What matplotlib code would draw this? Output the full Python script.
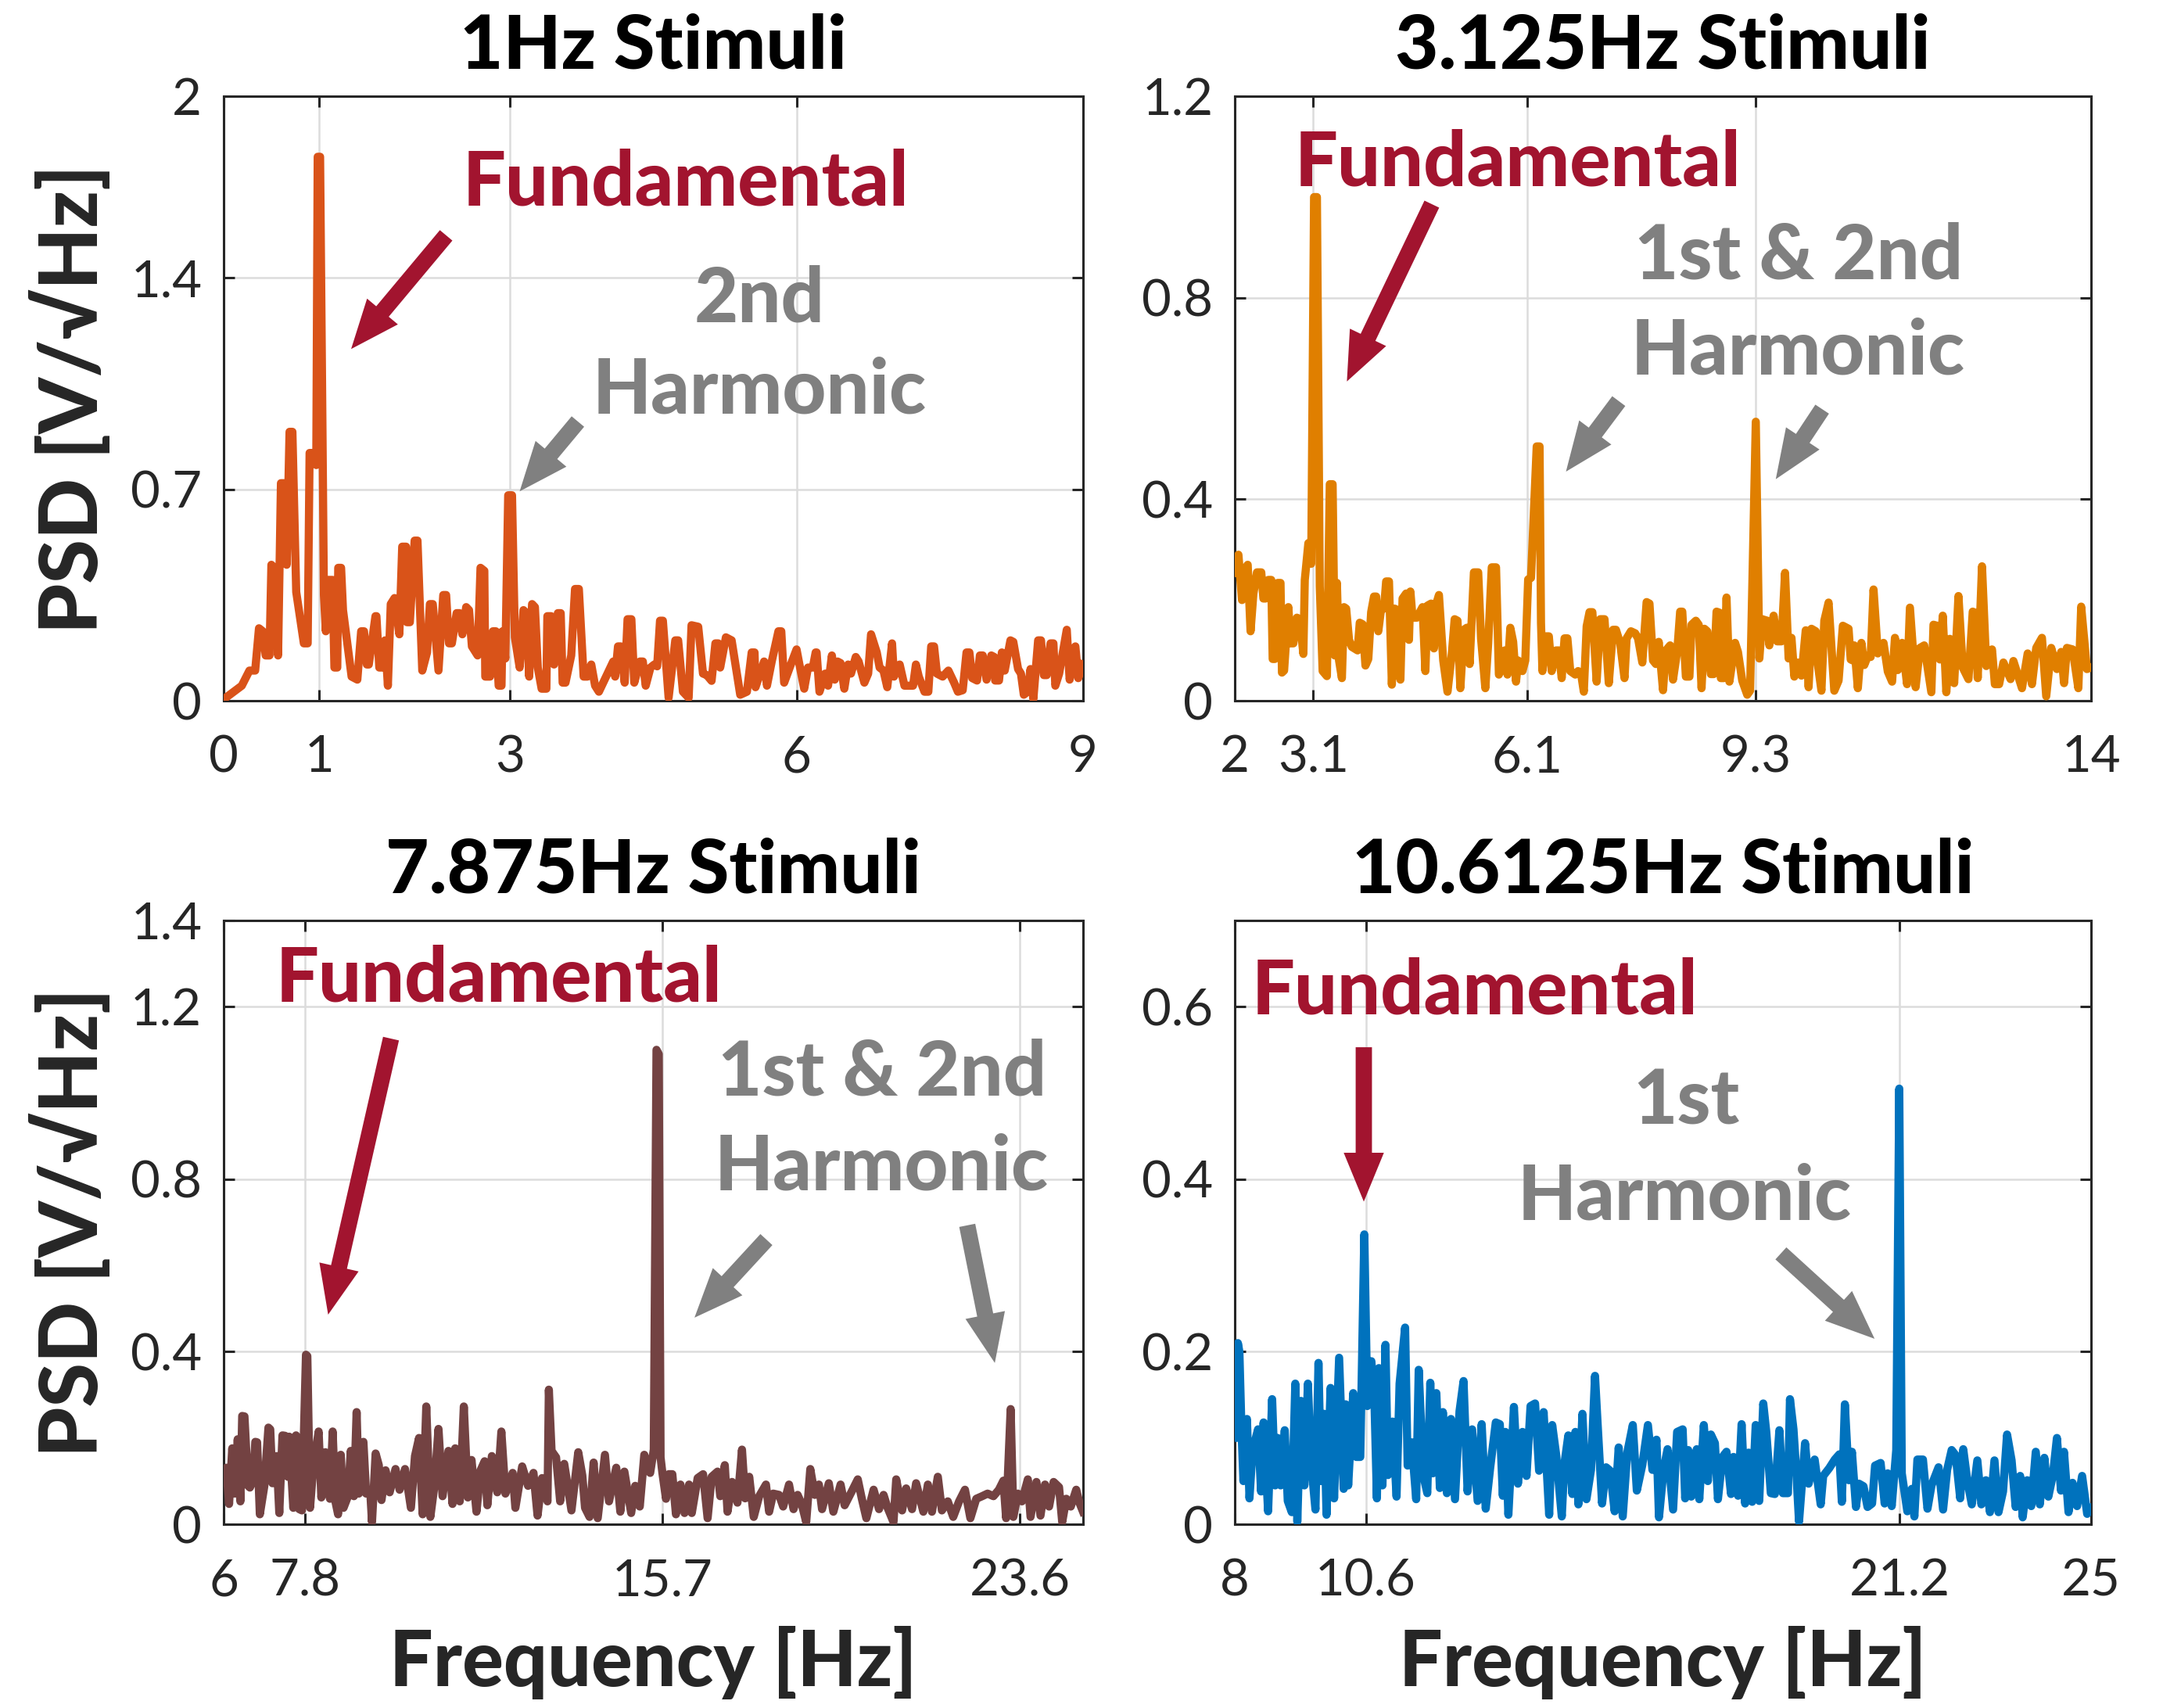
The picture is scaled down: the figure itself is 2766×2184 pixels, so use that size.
import numpy as np
import matplotlib
matplotlib.use('Agg')
import matplotlib.pyplot as plt
from matplotlib.patches import FancyArrowPatch

plt.rcParams['font.family'] = ['Lato', 'DejaVu Sans']

# ---- data ----
f1 = [0.00, 0.19, 0.27, 0.33, 0.37, 0.41, 0.44, 0.48, 0.50, 0.53, 0.57, 0.60, 0.63, 0.66, 0.69, 0.72, 0.76, 0.84, 0.88, 0.90,
      0.95, 0.97, 0.985, 1.01, 1.05, 1.07, 1.10, 1.14, 1.16, 1.19, 1.20, 1.23, 1.25, 1.34, 1.40, 1.44, 1.47, 1.50, 1.52, 1.59,
      1.60, 1.63, 1.67, 1.69, 1.72, 1.75, 1.79, 1.84, 1.87, 1.91, 1.92, 1.95, 2.00, 2.03, 2.08, 2.13, 2.16, 2.19, 2.25, 2.30,
      2.33, 2.36, 2.39, 2.44, 2.47, 2.50, 2.54, 2.57, 2.60, 2.66, 2.69, 2.73, 2.74, 2.79, 2.82, 2.85, 2.88, 2.91, 2.92, 2.95,
      2.98, 3.02, 3.05, 3.10, 3.14, 3.17, 3.20, 3.23, 3.26, 3.29, 3.33, 3.38, 3.39, 3.43, 3.46, 3.50, 3.53, 3.55, 3.58, 3.64,
      3.68, 3.72, 3.77, 3.81, 3.85, 3.89, 3.93, 3.96, 4.08, 4.10, 4.13, 4.16, 4.20, 4.23, 4.27, 4.30, 4.36, 4.39, 4.42, 4.47,
      4.51, 4.54, 4.57, 4.60, 4.66, 4.73, 4.76, 4.81, 4.87, 4.90, 4.97, 5.02, 5.06, 5.11, 5.15, 5.18, 5.20, 5.26, 5.32, 5.41,
      5.48, 5.53, 5.56, 5.57, 5.66, 5.69, 5.74, 5.81, 5.84, 5.87, 5.94, 6.00, 6.03, 6.08, 6.12, 6.17, 6.20, 6.21, 6.24, 6.30,
      6.33, 6.37, 6.40, 6.43, 6.46, 6.50, 6.54, 6.57, 6.62, 6.65, 6.71, 6.75, 6.78, 6.84, 6.87, 6.91, 6.95, 7.00, 7.02, 7.08,
      7.13, 7.22, 7.25, 7.28, 7.34, 7.38, 7.41, 7.44, 7.47, 7.53, 7.59, 7.65, 7.69, 7.74, 7.78, 7.81, 7.84, 7.89, 7.92, 7.95,
      7.99, 8.04, 8.07, 8.08, 8.12, 8.15, 8.18, 8.24, 8.27, 8.32, 8.35, 8.38, 8.42, 8.45, 8.48, 8.53, 8.56, 8.59, 8.62, 8.66,
      8.69, 8.71, 8.75, 8.83, 8.86, 8.92, 8.95, 9.00]
p1 = [0.005, 0.05, 0.10, 0.10, 0.24, 0.23, 0.15, 0.15, 0.45, 0.44, 0.15, 0.72, 0.72, 0.45, 0.89, 0.89, 0.36, 0.19, 0.19, 0.82,
      0.82, 0.78, 1.80, 1.80, 0.35, 0.23, 0.40, 0.40, 0.11, 0.11, 0.44, 0.44, 0.30, 0.08, 0.07, 0.23, 0.23, 0.12, 0.12, 0.28,
      0.28, 0.11, 0.11, 0.20, 0.05, 0.32, 0.34, 0.22, 0.51, 0.51, 0.26, 0.26, 0.53, 0.53, 0.10, 0.16, 0.32, 0.32, 0.10, 0.35,
      0.35, 0.19, 0.19, 0.29, 0.29, 0.22, 0.31, 0.30, 0.18, 0.15, 0.44, 0.43, 0.08, 0.08, 0.23, 0.23, 0.05, 0.05, 0.23, 0.14,
      0.68, 0.68, 0.21, 0.11, 0.30, 0.29, 0.08, 0.32, 0.31, 0.11, 0.04, 0.04, 0.28, 0.28, 0.12, 0.29, 0.29, 0.06, 0.06, 0.15,
      0.37, 0.37, 0.08, 0.08, 0.12, 0.05, 0.03, 0.05, 0.13, 0.08, 0.18, 0.18, 0.06, 0.27, 0.27, 0.06, 0.13, 0.13, 0.05, 0.11,
      0.12, 0.114, 0.265, 0.265, 0.01, 0.20, 0.20, 0.03, 0.01, 0.25, 0.245, 0.09, 0.085, 0.066, 0.19, 0.19, 0.11, 0.21, 0.20, 0.02,
      0.03, 0.16, 0.16, 0.045, 0.13, 0.05, 0.13, 0.23, 0.23, 0.06, 0.12, 0.17, 0.12, 0.04, 0.11, 0.11, 0.16, 0.16, 0.03, 0.09,
      0.05, 0.15, 0.07, 0.13, 0.125, 0.04, 0.12, 0.09, 0.145, 0.13, 0.06, 0.09, 0.22, 0.16, 0.11, 0.10, 0.045, 0.19, 0.08, 0.12,
      0.05, 0.05, 0.12, 0.08, 0.03, 0.03, 0.18, 0.18, 0.09, 0.08, 0.10, 0.06, 0.03, 0.035, 0.16, 0.16, 0.075, 0.067, 0.15, 0.15,
      0.07, 0.15, 0.145, 0.067, 0.067, 0.16, 0.10, 0.20, 0.195, 0.105, 0.09, 0.02, 0.03, 0.105, 0.006, 0.20, 0.20, 0.085, 0.085, 0.19,
      0.19, 0.05, 0.09, 0.235, 0.07, 0.18, 0.075, 0.12]

f2 = [2.00, 2.05, 2.10, 2.13, 2.18, 2.22, 2.26, 2.31, 2.37, 2.40, 2.43, 2.47, 2.51, 2.53, 2.56, 2.60, 2.64, 2.66, 2.69, 2.75,
      2.78, 2.82, 2.87, 2.91, 2.96, 2.98, 3.03, 3.07, 3.11, 3.15, 3.19, 3.23, 3.29, 3.33, 3.37, 3.40, 3.43, 3.46, 3.50, 3.53,
      3.56, 3.60, 3.64, 3.72, 3.75, 3.79, 3.83, 3.87, 3.91, 3.95, 3.98, 4.01, 4.05, 4.09, 4.12, 4.16, 4.20, 4.24, 4.28, 4.32,
      4.35, 4.40, 4.44, 4.46, 4.49, 4.55, 4.63, 4.67, 4.70, 4.75, 4.79, 4.83, 4.86, 4.92, 4.98, 5.04, 5.08, 5.12, 5.16, 5.21,
      5.25, 5.29, 5.35, 5.41, 5.45, 5.51, 5.55, 5.60, 5.66, 5.70, 5.74, 5.78, 5.82, 5.86, 5.90, 5.94, 5.97, 6.03, 6.07, 6.11,
      6.15, 6.23, 6.27, 6.29, 6.31, 6.36, 6.40, 6.44, 6.50, 6.54, 6.58, 6.62, 6.66, 6.70, 6.77, 6.81, 6.85, 6.89, 6.93, 6.97,
      7.01, 7.07, 7.12, 7.18, 7.24, 7.30, 7.34, 7.40, 7.46, 7.49, 7.55, 7.61, 7.65, 7.71, 7.77, 7.81, 7.86, 7.90, 7.94, 8.00,
      8.04, 8.10, 8.14, 8.20, 8.24, 8.27, 8.32, 8.37, 8.40, 8.46, 8.50, 8.54, 8.58, 8.62, 8.67, 8.71, 8.75, 8.79, 8.81, 8.85,
      8.89, 8.93, 9.01, 9.05, 9.11, 9.18, 9.22, 9.30, 9.35, 9.39, 9.46, 9.49, 9.55, 9.60, 9.66, 9.71, 9.76, 9.80, 9.84, 9.88,
      9.94, 10.00, 10.04, 10.08, 10.14, 10.16, 10.22, 10.26, 10.32, 10.40, 10.46, 10.52, 10.60, 10.63, 10.66, 10.68, 10.73, 10.78, 10.82, 10.87,
      10.91, 10.95, 11.01, 11.09, 11.15, 11.21, 11.25, 11.29, 11.35, 11.42, 11.46, 11.54, 11.60, 11.66, 11.76, 11.79, 11.84, 11.88, 11.92, 11.97,
      12.02, 12.08, 12.14, 12.20, 12.28, 12.34, 12.37, 12.41, 12.47, 12.53, 12.61, 12.65, 12.71, 12.77, 12.87, 12.91, 13.03, 13.11, 13.17, 13.23,
      13.31, 13.37, 13.44, 13.52, 13.58, 13.62, 13.66, 13.74, 13.82, 13.86, 13.94, 14.00]
p2 = [0.254, 0.29, 0.20, 0.26, 0.27, 0.138, 0.213, 0.255, 0.255, 0.203, 0.203, 0.24, 0.24, 0.083, 0.083, 0.234, 0.234, 0.056, 0.06, 0.186,
      0.114, 0.114, 0.165, 0.162, 0.093, 0.24, 0.313, 0.272, 1.00, 1.00, 0.227, 0.059, 0.049, 0.43, 0.43, 0.09, 0.234, 0.08, 0.045, 0.186,
      0.183, 0.121, 0.107, 0.10, 0.155, 0.152, 0.07, 0.083, 0.176, 0.207, 0.207, 0.138, 0.183, 0.183, 0.237, 0.237, 0.032, 0.183, 0.18, 0.042,
      0.203, 0.213, 0.121, 0.217, 0.165, 0.165, 0.186, 0.059, 0.189, 0.193, 0.104, 0.196, 0.21, 0.08, 0.018, 0.093, 0.162, 0.159, 0.025, 0.141,
      0.145, 0.073, 0.255, 0.255, 0.124, 0.025, 0.114, 0.265, 0.265, 0.052, 0.069, 0.10, 0.052, 0.145, 0.117, 0.038, 0.08, 0.059, 0.08, 0.241,
      0.244, 0.505, 0.505, 0.155, 0.059, 0.128, 0.128, 0.059, 0.10, 0.10, 0.045, 0.124, 0.124, 0.059, 0.052, 0.059, 0.055, 0.018, 0.148, 0.176,
      0.176, 0.038, 0.162, 0.162, 0.035, 0.141, 0.141, 0.114, 0.045, 0.124, 0.138, 0.134, 0.124, 0.076, 0.196, 0.193, 0.08, 0.073, 0.117, 0.021,
      0.10, 0.11, 0.042, 0.10, 0.177, 0.177, 0.048, 0.048, 0.151, 0.159, 0.151, 0.025, 0.143, 0.138, 0.053, 0.053, 0.177, 0.175, 0.045, 0.045,
      0.205, 0.038, 0.115, 0.097, 0.04, 0.012, 0.02, 0.554, 0.084, 0.162, 0.159, 0.11, 0.169, 0.118, 0.118, 0.254, 0.084, 0.125, 0.048, 0.076,
      0.05, 0.14, 0.027, 0.143, 0.138, 0.082, 0.02, 0.159, 0.195, 0.02, 0.04, 0.149, 0.143, 0.082, 0.08, 0.11, 0.025, 0.115, 0.071, 0.089,
      0.087, 0.221, 0.094, 0.115, 0.058, 0.038, 0.125, 0.061, 0.115, 0.033, 0.185, 0.027, 0.105, 0.11, 0.017, 0.151, 0.149, 0.082, 0.169, 0.017,
      0.123, 0.035, 0.208, 0.066, 0.043, 0.177, 0.175, 0.045, 0.267, 0.069, 0.102, 0.033, 0.033, 0.076, 0.043, 0.079, 0.025, 0.094, 0.033, 0.105,
      0.125, 0.009, 0.105, 0.063, 0.097, 0.035, 0.105, 0.102, 0.025, 0.187, 0.063, 0.066]

f3 = [6.00, 6.06, 6.12, 6.19, 6.25, 6.31, 6.37, 6.41, 6.46, 6.54, 6.58, 6.65, 6.70, 6.74, 6.80, 6.90, 6.99, 7.03, 7.08, 7.17,
      7.23, 7.30, 7.36, 7.42, 7.45, 7.54, 7.60, 7.67, 7.73, 7.82, 7.85, 7.91, 7.98, 8.10, 8.16, 8.25, 8.35, 8.41, 8.47, 8.53,
      8.59, 8.65, 8.75, 8.81, 8.88, 8.94, 8.99, 9.09, 9.15, 9.24, 9.28, 9.36, 9.43, 9.49, 9.58, 9.67, 9.80, 9.89, 10.01, 10.14,
      10.23, 10.32, 10.40, 10.48, 10.57, 10.66, 10.75, 10.84, 10.97, 11.06, 11.12, 11.22, 11.31, 11.40, 11.48, 11.59, 11.68, 11.77, 11.83, 11.93,
      12.05, 12.14, 12.23, 12.39, 12.45, 12.60, 12.73, 12.85, 12.94, 13.04, 13.16, 13.19, 13.25, 13.35, 13.44, 13.53, 13.69, 13.84, 13.93, 13.99,
      14.09, 14.18, 14.27, 14.43, 14.52, 14.68, 14.77, 14.86, 15.01, 15.10, 15.20, 15.30, 15.43, 15.51, 15.57, 15.62, 15.66, 15.70, 15.78, 15.84,
      15.92, 16.00, 16.10, 16.19, 16.29, 16.35, 16.48, 16.60, 16.70, 16.79, 16.92, 16.98, 17.08, 17.14, 17.24, 17.36, 17.46, 17.53, 17.62, 17.72,
      17.84, 17.99, 18.06, 18.15, 18.28, 18.37, 18.50, 18.60, 18.69, 18.78, 18.88, 18.97, 19.07, 19.16, 19.23, 19.38, 19.48, 19.64, 19.73, 19.92,
      20.02, 20.11, 20.21, 20.37, 20.49, 20.59, 20.68, 20.81, 20.87, 21.00, 21.09, 21.22, 21.31, 21.47, 21.57, 21.66, 21.79, 21.88, 22.01, 22.13,
      22.26, 22.39, 22.51, 22.64, 22.77, 22.89, 23.02, 23.14, 23.24, 23.30, 23.40, 23.46, 23.56, 23.65, 23.78, 23.84, 23.97, 24.06, 24.16, 24.25,
      24.35, 24.47, 24.54, 24.63, 24.73, 24.85, 24.92, 25.00]
p3 = [0.104, 0.131, 0.047, 0.176, 0.071, 0.197, 0.053, 0.251, 0.25, 0.089, 0.085, 0.101, 0.191, 0.19, 0.023, 0.089, 0.224, 0.22, 0.095, 0.158,
      0.026, 0.206, 0.205, 0.11, 0.203, 0.038, 0.206, 0.035, 0.032, 0.393, 0.39, 0.038, 0.131, 0.215, 0.062, 0.167, 0.059, 0.215, 0.053, 0.023,
      0.161, 0.038, 0.065, 0.17, 0.065, 0.26, 0.071, 0.191, 0.071, 0.077, 0.005, 0.164, 0.137, 0.056, 0.125, 0.074, 0.128, 0.08, 0.128, 0.038,
      0.158, 0.20, 0.023, 0.273, 0.017, 0.089, 0.221, 0.065, 0.17, 0.047, 0.176, 0.053, 0.273, 0.062, 0.149, 0.029, 0.125, 0.146, 0.044, 0.158,
      0.074, 0.215, 0.071, 0.119, 0.038, 0.134, 0.089, 0.119, 0.02, 0.107, 0.053, 0.312, 0.17, 0.155, 0.053, 0.14, 0.032, 0.167, 0.113, 0.038,
      0.017, 0.143, 0.014, 0.161, 0.053, 0.131, 0.029, 0.122, 0.026, 0.089, 0.041, 0.161, 0.119, 0.173, 1.10, 1.09, 0.155, 0.119, 0.059, 0.116,
      0.116, 0.023, 0.092, 0.026, 0.092, 0.026, 0.107, 0.116, 0.014, 0.11, 0.122, 0.065, 0.137, 0.029, 0.098, 0.05, 0.173, 0.06, 0.11, 0.017,
      0.065, 0.092, 0.029, 0.071, 0.068, 0.041, 0.092, 0.035, 0.068, 0.047, 0.005, 0.128, 0.068, 0.092, 0.035, 0.095, 0.029, 0.092, 0.044, 0.083,
      0.104, 0.059, 0.014, 0.08, 0.035, 0.068, 0.038, 0.005, 0.104, 0.032, 0.083, 0.035, 0.095, 0.029, 0.092, 0.029, 0.11, 0.032, 0.053, 0.017,
      0.053, 0.08, 0.014, 0.059, 0.065, 0.071, 0.065, 0.08, 0.101, 0.014, 0.267, 0.017, 0.071, 0.053, 0.104, 0.017, 0.098, 0.02, 0.092, 0.041,
      0.098, 0.086, 0.005, 0.059, 0.041, 0.08, 0.05, 0.029]

f4 = [8.00, 8.03, 8.06, 8.09, 8.13, 8.17, 8.20, 8.24, 8.29, 8.35, 8.46, 8.52, 8.57, 8.66, 8.74, 8.80, 8.85, 8.91, 8.99, 9.05,
      9.13, 9.20, 9.24, 9.31, 9.38, 9.45, 9.51, 9.60, 9.66, 9.71, 9.77, 9.82, 9.90, 9.97, 10.07, 10.16, 10.20, 10.25, 10.35, 10.41,
      10.49, 10.57, 10.63, 10.71, 10.77, 10.82, 10.86, 10.93, 10.99, 11.04, 11.13, 11.21, 11.27, 11.38, 11.43, 11.51, 11.60, 11.65, 11.74, 11.82,
      11.88, 11.93, 12.00, 12.07, 12.13, 12.21, 12.29, 12.37, 12.46, 12.54, 12.62, 12.71, 12.82, 12.90, 12.98, 13.07, 13.18, 13.26, 13.32, 13.37,
      13.43, 13.54, 13.62, 13.71, 13.79, 13.87, 13.96, 14.04, 14.13, 14.24, 14.30, 14.38, 14.49, 14.54, 14.62, 14.70, 14.76, 14.82, 14.90, 14.98,
      15.07, 15.15, 15.20, 15.29, 15.37, 15.45, 15.54, 15.62, 15.70, 15.79, 15.90, 15.98, 16.09, 16.20, 16.29, 16.37, 16.42, 16.51, 16.59, 16.70,
      16.78, 16.89, 16.94, 17.00, 17.06, 17.17, 17.22, 17.31, 17.39, 17.45, 17.53, 17.59, 17.68, 17.76, 17.85, 17.90, 17.99, 18.06, 18.13, 18.20,
      18.27, 18.34, 18.41, 18.49, 18.55, 18.64, 18.72, 18.81, 18.88, 18.98, 19.02, 19.09, 19.15, 19.20, 19.32, 19.39, 19.51, 19.63, 19.68, 19.80,
      19.91, 20.00, 20.05, 20.11, 20.19, 20.25, 20.33, 20.39, 20.48, 20.56, 20.65, 20.71, 20.82, 20.90, 20.96, 21.04, 21.13, 21.19, 21.24, 21.35,
      21.44, 21.49, 21.55, 21.66, 21.75, 21.83, 21.97, 22.06, 22.14, 22.23, 22.31, 22.40, 22.46, 22.54, 22.63, 22.74, 22.82, 22.91, 22.99, 23.08,
      23.16, 23.25, 23.33, 23.42, 23.50, 23.59, 23.64, 23.73, 23.81, 23.90, 23.98, 24.07, 24.15, 24.24, 24.32, 24.40, 24.46, 24.55, 24.63, 24.72,
      24.82, 24.92, 25.00]
p4 = [0.116, 0.10, 0.21, 0.20, 0.113, 0.05, 0.10, 0.122, 0.03, 0.085, 0.11, 0.038, 0.118, 0.015, 0.145, 0.045, 0.10, 0.045, 0.109, 0.027,
      0.014, 0.163, 0.003, 0.143, 0.045, 0.163, 0.074, 0.017, 0.187, 0.05, 0.128, 0.011, 0.158, 0.03, 0.193, 0.041, 0.139, 0.045, 0.152, 0.078,
      0.078, 0.336, 0.137, 0.189, 0.145, 0.03, 0.181, 0.045, 0.208, 0.057, 0.119, 0.032, 0.163, 0.228, 0.068, 0.095, 0.029, 0.179, 0.057, 0.036,
      0.164, 0.059, 0.152, 0.042, 0.13, 0.036, 0.122, 0.029, 0.131, 0.166, 0.038, 0.11, 0.027, 0.116, 0.018, 0.066, 0.118, 0.116, 0.033, 0.107,
      0.011, 0.136, 0.047, 0.107, 0.056, 0.137, 0.14, 0.062, 0.13, 0.011, 0.115, 0.08, 0.009, 0.069, 0.103, 0.035, 0.107, 0.023, 0.128, 0.029,
      0.063, 0.172, 0.118, 0.024, 0.066, 0.062, 0.015, 0.089, 0.009, 0.083, 0.115, 0.039, 0.069, 0.115, 0.063, 0.098, 0.008, 0.063, 0.087, 0.017,
      0.107, 0.11, 0.03, 0.086, 0.032, 0.087, 0.029, 0.115, 0.05, 0.104, 0.094, 0.029, 0.078, 0.084, 0.035, 0.078, 0.033, 0.116, 0.024, 0.083,
      0.026, 0.115, 0.027, 0.14, 0.107, 0.036, 0.035, 0.109, 0.036, 0.036, 0.145, 0.11, 0.056, 0.003, 0.094, 0.047, 0.075, 0.023, 0.056, 0.065,
      0.075, 0.081, 0.026, 0.139, 0.051, 0.084, 0.02, 0.047, 0.044, 0.02, 0.024, 0.068, 0.071, 0.024, 0.059, 0.021, 0.086, 0.505, 0.059, 0.015,
      0.041, 0.009, 0.075, 0.075, 0.018, 0.045, 0.066, 0.017, 0.063, 0.086, 0.08, 0.03, 0.087, 0.051, 0.023, 0.074, 0.023, 0.051, 0.014, 0.074,
      0.014, 0.038, 0.104, 0.074, 0.02, 0.056, 0.008, 0.051, 0.021, 0.084, 0.023, 0.077, 0.032, 0.057, 0.10, 0.039, 0.084, 0.014, 0.048, 0.021,
      0.056, 0.012, 0.018]

titles = ['1Hz Stimuli', '3.125Hz Stimuli', '7.875Hz Stimuli', '10.6125Hz Stimuli']
colors = ['#D95319', '#E07F00', '#734242', '#0072BD']
xlims = [(0, 9), (2, 14), (6, 25), (8, 25)]
ylims = [(0, 2), (0, 1.2), (0, 1.4), (0, 0.7)]
xticks = [[0, 1, 3, 6, 9], [2, 3.1, 6.1, 9.3, 14], [6, 7.8, 15.7, 23.6], [8, 10.6, 21.2, 25]]
xticklabels = [['0', '1', '3', '6', '9'], ['2', '3.1', '6.1', '9.3', '14'], ['6', '7.8', '15.7', '23.6'], ['8', '10.6', '21.2', '25']]
yticks = [[0, 0.7, 1.4, 2], [0, 0.4, 0.8, 1.2], [0, 0.4, 0.8, 1.2, 1.4], [0, 0.2, 0.4, 0.6]]
yticklabels = [['0', '0.7', '1.4', '2'], ['0', '0.4', '0.8', '1.2'], ['0', '0.4', '0.8', '1.2', '1.4'], ['0', '0.2', '0.4', '0.6']]

# annotation text: (x, baseline y, text, colour)
red = '#A2142F'; grey = '#808080'
notes = [
    [(4.84, 1.64, 'Fundamental', red), (5.61, 1.255, '2nd', grey), (5.61, 0.95, 'Harmonic', grey)],
    [(5.97, 1.023, 'Fundamental', red), (9.90, 0.837, '1st & 2nd', grey), (9.89, 0.649, 'Harmonic', grey)],
    [(12.09, 1.213, 'Fundamental', red), (20.56, 0.994, '1st & 2nd', grey), (20.55, 0.776, 'Harmonic', grey)],
    [(12.77, 0.592, 'Fundamental', red), (16.96, 0.464, '1st', grey), (16.93, 0.353, 'Harmonic', grey)],
]
# arrows: (tail, tip, colour)
arrows = [
    [((2.33, 1.54), (1.335, 1.164), red), ((3.71, 0.924), (3.10, 0.693), grey)],
    [((4.76, 0.986), (3.57, 0.634), red), ((7.38, 0.595), (6.64, 0.455), grey), ((10.23, 0.579), (9.58, 0.44), grey)],
    [((9.70, 1.126), (8.31, 0.486), red), ((18.0, 0.66), (16.41, 0.479), grey), ((22.44, 0.693), (23.05, 0.374), grey)],
    [((10.56, 0.553), (10.56, 0.374), red), ((18.84, 0.314), (20.70, 0.215), grey)],
]

fig = plt.figure(figsize=(27.66, 21.84), dpi=100)
pos = [[0.1034, 0.5897, 0.3973, 0.3539], [0.5709, 0.5897, 0.3959, 0.3539],
       [0.1034, 0.1076, 0.3973, 0.3535], [0.5709, 0.1076, 0.3959, 0.3535]]
data = [(f1, p1), (f2, p2), (f3, p3), (f4, p4)]

for i in range(4):
    ax = fig.add_axes(pos[i])
    ax.plot(data[i][0], data[i][1], color=colors[i], lw=7.5, solid_joinstyle='round', zorder=3)
    ax.set_xlim(xlims[i]); ax.set_ylim(ylims[i])
    ax.set_xticks(xticks[i]); ax.set_xticklabels(xticklabels[i])
    ax.set_yticks(yticks[i]); ax.set_yticklabels(yticklabels[i])
    ax.grid(True, color='#dcdcdc', lw=1.8)
    ax.set_axisbelow(True)
    ax.tick_params(direction='in', length=10, width=2.2, color='#262626', top=True, right=True,
                   labelsize=47, labelcolor='#262626')
    ax.tick_params(axis='x', pad=31)
    ax.tick_params(axis='y', pad=20)
    for s in ax.spines.values():
        s.set_linewidth(2.2); s.set_color('#262626')
    ax.text(0.5, 1.046, titles[i], transform=ax.transAxes, ha='center', va='baseline',
            fontsize=69, fontweight=900, color='black')
    for (x, y, t, c) in notes[i]:
        ax.text(x, y, t, ha='center', va='baseline', fontsize=70, fontweight=900, color=c, zorder=5)
    for (a, b, c) in arrows[i]:
        ax.add_patch(FancyArrowPatch(a, b, arrowstyle='simple,head_length=45,head_width=37,tail_width=15',
                                     mutation_scale=1, color=c, lw=0, shrinkA=0, shrinkB=0, zorder=5))

fig.text(0.0325, 0.7665, 'PSD [V/\u221aHz]', rotation=90, ha='center', va='center', fontsize=74, fontweight=900, color='#262626')
fig.text(0.0325, 0.2843, 'PSD [V/\u221aHz]', rotation=90, ha='center', va='center', fontsize=74, fontweight=900, color='#262626')
fig.text(0.1034 + 0.3973 / 2, 0.0128, 'Frequency [Hz]', ha='center', va='baseline', fontsize=71, fontweight=900, color='#262626')
fig.text(0.5709 + 0.3959 / 2, 0.0128, 'Frequency [Hz]', ha='center', va='baseline', fontsize=71, fontweight=900, color='#262626')

plt.savefig('out.png', dpi=100)
